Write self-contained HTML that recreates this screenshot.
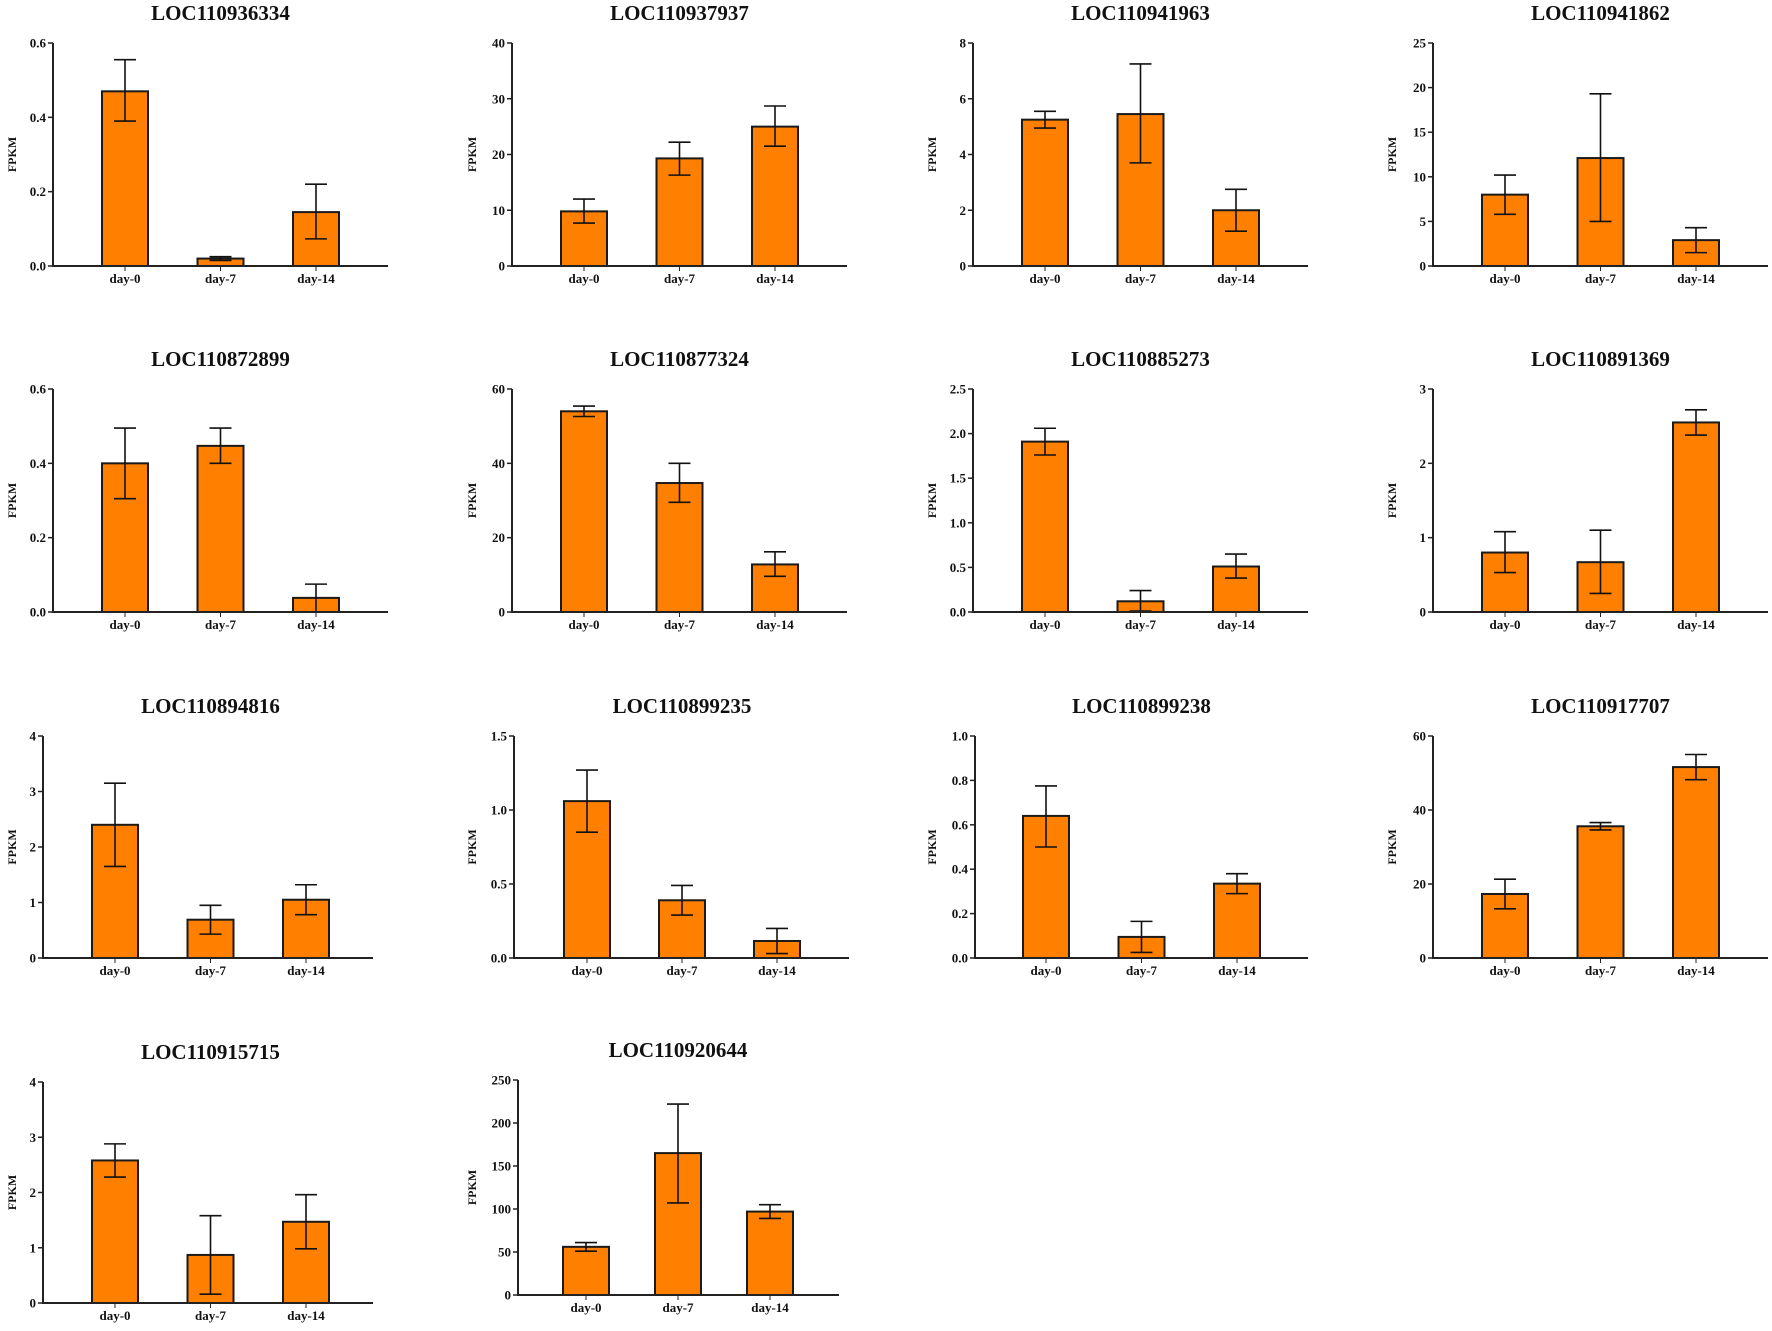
<!DOCTYPE html>
<html><head><meta charset="utf-8">
<style>
html,body{margin:0;padding:0;background:#fff;}
svg{display:block;}
text{font-family:"Liberation Serif",serif;font-weight:bold;fill:#111;}
</style></head>
<body>
<svg id="chart" width="1772" height="1331" viewBox="0 0 1772 1331" xmlns="http://www.w3.org/2000/svg"></svg>
<script>
const titles = ["LOC110936334","LOC110937937","LOC110941963","LOC110941862","LOC110872899","LOC110877324","LOC110885273","LOC110891369","LOC110894816","LOC110899235","LOC110899238","LOC110917707","LOC110915715","LOC110920644"];
const categories = ["day-0","day-7","day-14"];
const means = [[0.47,0.02,0.145],[9.8,19.3,25],[5.25,5.45,2.0],[8.0,12.1,2.9],[0.40,0.447,0.038],[54,34.7,12.8],[1.91,0.12,0.51],[0.80,0.67,2.55],[2.4,0.69,1.05],[1.06,0.39,0.115],[0.64,0.095,0.335],[17.3,35.6,51.6],[2.58,0.87,1.47],[56,165,97]];
const errLow = [[0.39,0.015,0.073],[7.7,16.3,21.5],[4.95,3.7,1.25],[5.8,5,1.5],[0.305,0.40,0.0],[52.6,29.5,9.6],[1.76,0.01,0.38],[0.53,0.25,2.38],[1.65,0.43,0.78],[0.85,0.29,0.03],[0.50,0.025,0.29],[13.3,34.6,48.2],[2.28,0.16,0.98],[51,107,89]];
const errHigh = [[0.555,0.025,0.22],[12,22.2,28.7],[5.55,7.25,2.75],[10.2,19.3,4.3],[0.495,0.495,0.075],[55.4,40,16.2],[2.06,0.24,0.65],[1.08,1.1,2.72],[3.15,0.95,1.32],[1.27,0.49,0.20],[0.775,0.165,0.38],[21.3,36.6,55],[2.88,1.58,1.96],[61,222,105]];
const yMax = [0.6,40,8,25,0.6,60,2.5,3,4,1.5,1.0,60,4,250];
const yStep = [0.2,10,2,5,0.2,20,0.5,1,1,0.5,0.2,20,1,50];
const yDecimals = [1,0,0,0,1,0,1,0,0,1,1,0,0,0];

const NS="http://www.w3.org/2000/svg";
const svg=document.getElementById('chart');
function mk(tag,attrs,parent){const e=document.createElementNS(NS,tag);for(const k in attrs)e.setAttribute(k,attrs[k]);(parent||svg).appendChild(e);return e;}
const axX=[53,512,973,1433,53,512,973,1433,43,514,975,1433,43,518];
const baseY=[266,266,266,266,612,612,612,612,958,958,958,958,1303,1295];
const plotH=[223,223,223,223,223,223,223,223,222,222,222,222,221,215];
const barOff=[72,72,72,72,72,72,72,72,72,73,71,72,72,68];
const barGap=[95.5,95.5,95.5,95.5,95.5,95.5,95.5,95.5,95.5,95,95.5,95.5,95.5,92];
const axLen=[335,335,335,335,335,335,335,335,330,335,333,335,330,321];
const fpkmX=[12,472,932,1392];
const barW=46;

titles.forEach((t,p)=>{
  const g=mk('g',{});
  
  
  const x0=axX[p], y0=baseY[p], h=plotH[p];
  const yScale=v=>y0-v/yMax[p]*h;
  const xScale=i=>x0+barOff[p]+barGap[p]*i;
  const tcx=x0+barOff[p]+barGap[p];
  const tt=mk('text',{x:tcx,y:y0-h-23,'text-anchor':'middle','font-size':21},g);
  tt.textContent=t;
  
  
  const yl=mk('text',{x:0,y:0,'text-anchor':'middle','font-size':12,transform:`translate(${fpkmX[p%4]+4},${y0-h/2}) rotate(-90)`},g);
  yl.textContent='FPKM';
  
  
  const n=Math.round(yMax[p]/yStep[p]);
  for(let k=0;k<=n;k++){
    const v=k*yStep[p], y=yScale(v);
    const tk=mk('line',{x1:x0-5,x2:x0,y1:y,y2:y,stroke:'#222','stroke-width':1.5},g);
    
    
    const lb=mk('text',{x:x0-7,y:y+4.5,'text-anchor':'end','font-size':13},g);
    lb.textContent=v.toFixed(yDecimals[p]);
    
    
  }
  categories.forEach((c,i)=>{
    const cx=xScale(i), m=means[p][i];
    const b=mk('rect',{x:cx-barW/2,y:yScale(m),width:barW,height:y0-yScale(m),fill:'#FF8000',stroke:'#1a1a1a','stroke-width':2},g);
    
    
    const lo=yScale(errLow[p][i]), hi=yScale(errHigh[p][i]);
    const eg=mk('g',{stroke:'#111','stroke-width':1.6},g);
    
    
    mk('line',{x1:cx,x2:cx,y1:lo,y2:hi},eg);
    mk('line',{x1:cx-11,x2:cx+11,y1:lo,y2:lo},eg);
    mk('line',{x1:cx-11,x2:cx+11,y1:hi,y2:hi},eg);
    mk('line',{x1:cx,x2:cx,y1:y0,y2:y0+5,stroke:'#222'},g);
    const xl=mk('text',{x:cx,y:y0+17,'text-anchor':'middle','font-size':13},g);
    xl.textContent=c;
    
    
  });
  const ya=mk('line',{x1:x0,x2:x0,y1:y0-h,y2:y0+1,stroke:'#222','stroke-width':2},g);
  
  
  const xa=mk('line',{x1:x0-1,x2:x0+axLen[p],y1:y0,y2:y0,stroke:'#222','stroke-width':2},g);
  
  
});
</script>
</body></html>
